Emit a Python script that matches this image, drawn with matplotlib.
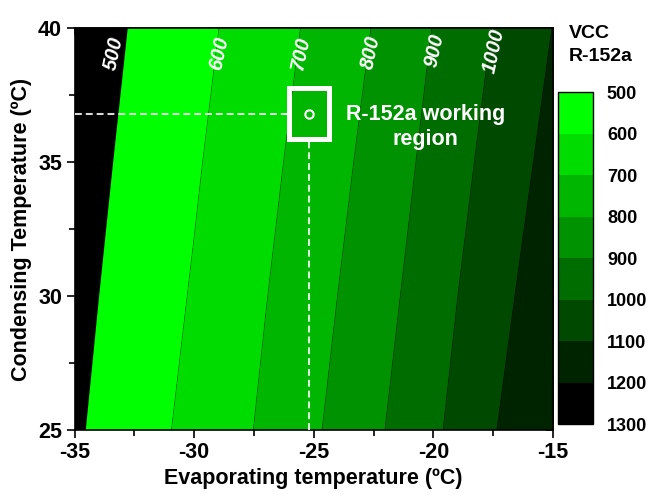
import matplotlib
matplotlib.use("Agg")
import matplotlib.pyplot as plt
import matplotlib.patches as patches
from matplotlib.colors import ListedColormap
from matplotlib.ticker import MultipleLocator
import numpy as np

plt.rcParams['font.family'] = ['Liberation Sans', 'DejaVu Sans']
plt.rcParams['font.weight'] = 'bold'
plt.rcParams['axes.unicode_minus'] = False

# VCC of R-152a over the evaporating / condensing temperature grid
evap_temp = [-35, -32.5, -30, -27.5, -25, -22.5, -20, -17.5, -15]
cond_temp = [25, 30, 35, 40]
vcc_cond25 = [487, 556, 627, 701, 787, 881, 982, 1094, 1195]
vcc_cond30 = [472, 540, 608, 681, 764, 855, 956, 1064, 1164]
vcc_cond35 = [458, 523, 590, 661, 740, 830, 929, 1033, 1133]
vcc_cond40 = [443, 507, 571, 641, 717, 804, 903, 1003, 1102]

vcc_levels = [500, 600, 700, 800, 900, 1000, 1100, 1200, 1300]
level_colors = ['#00ff00', '#00db00', '#00b600', '#009200',
                '#006d00', '#004900', '#002400', '#000000']

# contour labels drawn near the top edge
labelled_levels = [500, 600, 700, 800, 900, 1000]
label_x = [-33.35, -28.95, -25.55, -22.6, -19.95, -17.45]
label_y = [39.05, 39.05, 39.05, 39.1, 39.15, 39.15]

# R-152a working point
work_evap = -25.2
work_cond = 36.8

X, Y = np.meshgrid(evap_temp, cond_temp)
Z = np.array([vcc_cond25, vcc_cond30, vcc_cond35, vcc_cond40])

fig = plt.figure(figsize=(6.49, 4.98), dpi=100)
ax = fig.add_axes([74.5 / 649, 1 - 430 / 498, 478.5 / 649, 402 / 498])
cax = fig.add_axes([558 / 649, 1 - 424 / 498, 35 / 649, 332 / 498])

ax.set_facecolor('black')
cmap = ListedColormap(level_colors)
cs = ax.contourf(X, Y, Z, levels=vcc_levels, cmap=cmap, antialiased=True)
ax.contour(X, Y, Z, levels=vcc_levels[1:], colors='black', linewidths=0.6, alpha=0.2)

for lev, lx, ly in zip(labelled_levels, label_x, label_y):
    ax.text(lx, ly, str(lev), rotation=78, color='white', fontsize=14.5,
            fontweight='bold', style='italic', ha='center', va='center')

# working region marker and guide lines
box_w, box_h = 1.68, 1.9
ax.add_patch(patches.Rectangle((work_evap - box_w / 2, work_cond - box_h / 2), box_w, box_h,
                               fill=False, ec='white', lw=3.6, zorder=5))
ax.plot(work_evap, work_cond, 'o', mfc='none', mec='white', ms=6, mew=1.5, zorder=6)
ax.plot([-35, work_evap - box_w / 2], [work_cond, work_cond], color='white', alpha=0.85,
        lw=1.5, dashes=(3.3, 1.9), zorder=4)
ax.plot([work_evap, work_evap], [25, work_cond - box_h / 2], color='white', alpha=0.85,
        lw=1.5, dashes=(3.3, 1.9), zorder=4)
ax.text(-20.33, 36.3, 'R-152a working\nregion', ha='center', va='center', color='white',
        fontsize=15.5, fontweight='bold', linespacing=1.25)

ax.set_xlim(-35, -15)
ax.set_ylim(25, 40)
ax.xaxis.set_major_locator(MultipleLocator(5))
ax.xaxis.set_minor_locator(MultipleLocator(2.5))
ax.yaxis.set_major_locator(MultipleLocator(5))
ax.yaxis.set_minor_locator(MultipleLocator(2.5))
ax.tick_params(which='both', direction='out', width=1.2, labelsize=15.5, pad=3)
ax.tick_params(which='major', length=6)
ax.tick_params(which='minor', length=4)
for lab in ax.get_xticklabels() + ax.get_yticklabels():
    lab.set_fontweight('bold')

# inward ticks on the top and right edges
top = ax.secondary_xaxis('top')
top.xaxis.set_major_locator(MultipleLocator(2.5))
top.tick_params(direction='in', length=5, width=1.2, labeltop=False)
right = ax.secondary_yaxis('right')
right.yaxis.set_major_locator(MultipleLocator(2.5))
right.tick_params(direction='in', length=5, width=1.2, labelright=False)
for a in (ax, top, right):
    for sp in a.spines.values():
        sp.set_linewidth(1.2)

ax.set_xlabel('Evaporating temperature (ºC)', fontsize=15.5, fontweight='bold', labelpad=3)
ax.set_ylabel('Condensing Temperature (ºC)', fontsize=15.5, fontweight='bold')
ax.yaxis.set_label_coords(-0.088, 0.5)

cb = fig.colorbar(cs, cax=cax)
cax.invert_yaxis()
cb.set_ticks(vcc_levels)
cb.outline.set_linewidth(1)
cax.tick_params(length=0, pad=10, labelsize=13)
for lab in cax.get_yticklabels():
    lab.set_fontweight('bold')
fig.text(569 / 649, 1 - 25 / 498, 'VCC\nR-152a', ha='left', va='top',
         fontsize=14, fontweight='bold', linespacing=1.45)

fig.savefig('out.png', dpi=100)
